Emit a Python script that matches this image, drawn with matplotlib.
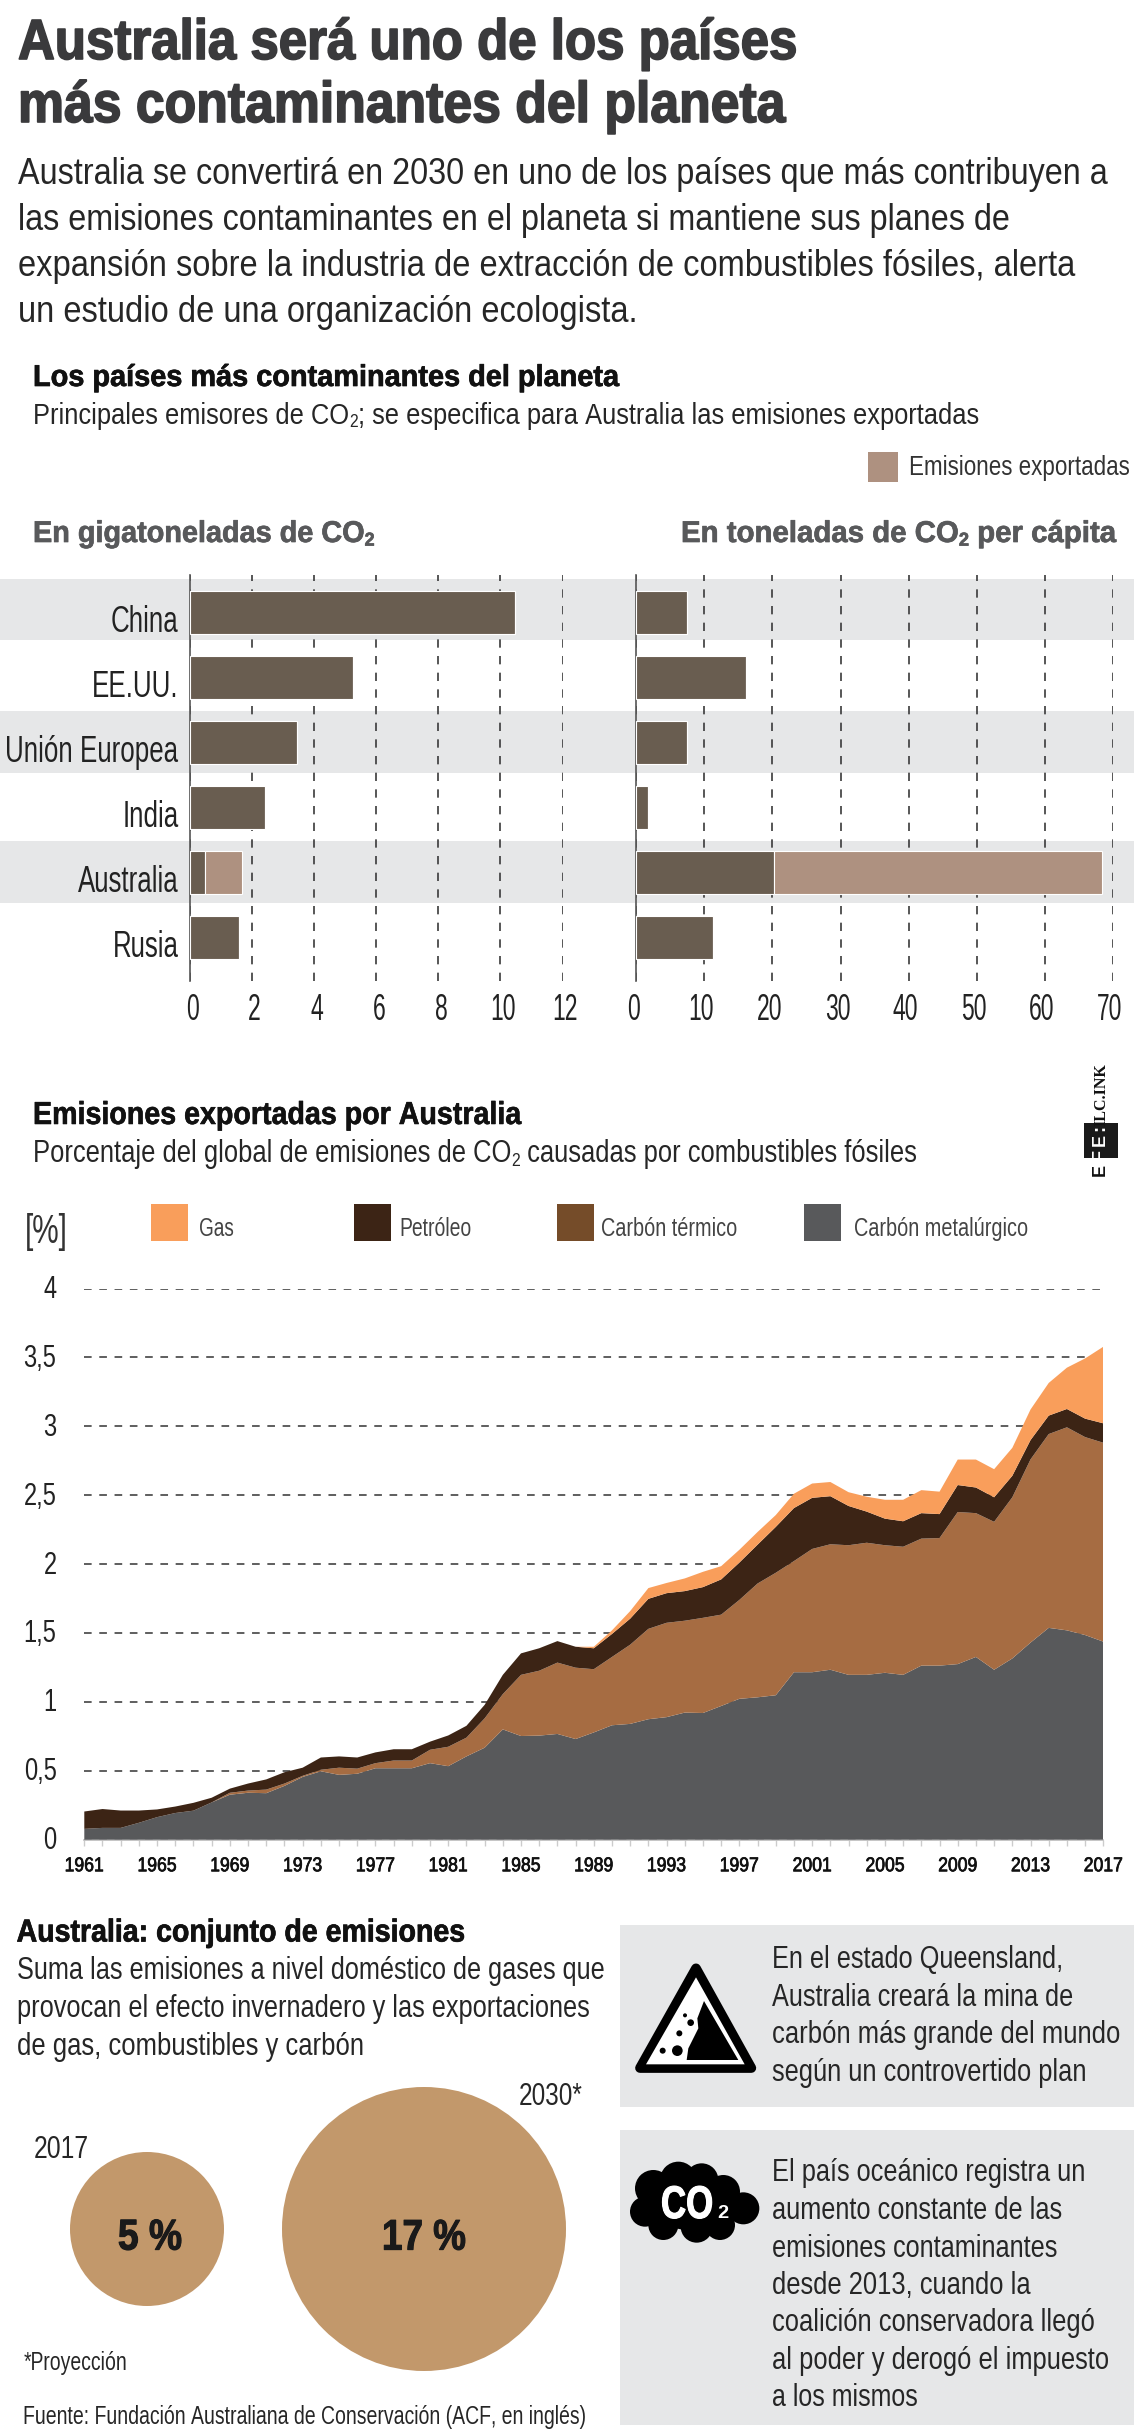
import io, os, tempfile
import numpy as np
import matplotlib
matplotlib.use("Agg")
import matplotlib.pyplot as plt
from matplotlib.patches import Rectangle, Circle, Polygon
from matplotlib.transforms import ScaledTranslation
from matplotlib import font_manager as fm
from matplotlib.font_manager import FontProperties
import matplotlib.patheffects as pe
from fontTools.ttLib import TTFont
from fontTools import subset

W, H, DPI = 1134, 2431, 100

# ---------- data ----------
paises = ['China', 'EE.UU.', 'Unión Europea', 'India', 'Australia', 'Rusia']
giga_domesticas = [10.47, 5.26, 3.46, 2.44, 0.49, 1.60]
giga_exportadas = [0, 0, 0, 0, 1.21, 0]
capita_domesticas = [7.4, 16.1, 7.4, 1.7, 20.2, 11.3]
capita_exportadas = [0, 0, 0, 0, 48.2, 0]
giga_ticks = [0, 2, 4, 6, 8, 10, 12]
capita_ticks = [0, 10, 20, 30, 40, 50, 60, 70]

anios = list(range(1961, 2018))
techo_metalurgico = [.078,.085,.085,.122,.163,.193,.21,.27,.326,.34,.337,.39,.455,.496,.47,.478,.518,.518,.518,.555,
    .533,.604,.667,.80,.752,.755,.767,.73,.778,.83,.84,.874,.889,.922,.919,.97,1.022,1.033,1.048,1.215,
    1.215,1.233,1.196,1.196,1.211,1.196,1.263,1.263,1.274,1.326,1.233,1.315,1.43,1.537,1.519,1.485,1.437]
techo_termico = [.078,.085,.085,.122,.163,.193,.21,.27,.34,.356,.363,.407,.463,.507,.522,.515,.555,.574,.574,.652,
    .674,.74,.88,1.056,1.196,1.226,1.285,1.248,1.237,1.326,1.415,1.53,1.574,1.589,1.61,1.633,1.74,1.859,1.937,2.022,
    2.11,2.144,2.137,2.155,2.137,2.126,2.185,2.189,2.378,2.37,2.307,2.485,2.76,2.944,2.993,2.922,2.881]
techo_petroleo = [.204,.222,.211,.211,.219,.24,.267,.304,.37,.407,.437,.489,.522,.596,.604,.596,.633,.656,.656,.711,
    .756,.826,.978,1.196,1.352,1.389,1.441,1.40,1.389,1.493,1.604,1.748,1.789,1.804,1.833,1.889,2.011,2.141,2.27,2.407,
    2.481,2.493,2.422,2.381,2.33,2.311,2.37,2.363,2.574,2.556,2.485,2.641,2.9,3.078,3.126,3.056,3.022]
techo_gas = [.204,.222,.211,.211,.219,.24,.267,.304,.37,.407,.437,.489,.522,.596,.604,.596,.633,.656,.656,.711,
    .756,.826,.978,1.196,1.352,1.389,1.441,1.40,1.40,1.519,1.659,1.826,1.863,1.896,1.944,1.985,2.104,2.233,2.356,2.511,
    2.585,2.596,2.522,2.489,2.467,2.467,2.537,2.526,2.759,2.759,2.689,2.844,3.122,3.315,3.426,3.493,3.578]
pct_ticks = [0, .5, 1, 1.5, 2, 2.5, 3, 3.5, 4]
pct_labels = ['0', '0,5', '1', '1,5', '2', '2,5', '3', '3,5', '4']
radio_2017 = 77
radio_2030 = 142

# ---------- colours ----------
GREY = '#e6e7e8'; BAR = '#695d50'; EXP = '#ae9180'; GAS = '#f99e5b'; OIL = '#3c2415'
THERM = '#a66c42'; THERM_LG = '#754c29'; MET = '#58595b'; TAN = '#c2986b'; INK = '#1c1c1c'

# ---------- condensed versions of Liberation Sans (the reference type is a narrow grotesque) ----------
TMP = tempfile.mkdtemp()
def _base_bytes(weight):
    f = TTFont(fm.findfont(FontProperties(family='Liberation Sans', weight=weight)))
    o = subset.Options(); o.layout_features = []; o.hinting = False; o.notdef_outline = True
    s = subset.Subsetter(o); s.populate(unicodes=list(range(0x20, 0x180))); s.subset(f)
    for t in ('kern', 'GPOS', 'GSUB', 'GDEF'):
        if t in f:
            del f[t]
    b = io.BytesIO(); f.save(b)
    return b.getvalue()
BASE = {False: _base_bytes('normal'), True: _base_bytes('bold')}
_cache = {}
def font_path(bold, factor):
    factor = round(factor / 0.02) * 0.02
    key = (bold, round(factor, 2))
    if key in _cache:
        return _cache[key]
    f = TTFont(io.BytesIO(BASE[bold]))
    glyf, hmtx = f['glyf'], f['hmtx']
    for name in f.getGlyphOrder():
        g = glyf[name]
        if g.isComposite():
            for c in g.components:
                c.x = int(round(c.x * factor))
        elif g.numberOfContours > 0:
            g.coordinates.scale((factor, 1)); g.coordinates.toInt()
        adv, lsb = hmtx[name]
        hmtx[name] = (int(round(adv * factor)), int(round(lsb * factor)))
    p = os.path.join(TMP, 'n%d_%03d.ttf' % (bold, round(factor * 100)))
    f.save(p)
    _cache[key] = p
    return p
def fp(px, factor=1.0, bold=False):
    return FontProperties(fname=font_path(bold, factor), size=px * 0.72)

fig = plt.figure(figsize=(W / DPI, H / DPI), dpi=DPI, facecolor='white')
bg = fig.add_axes([0, 0, 1, 1]); bg.set_xlim(0, W); bg.set_ylim(H, 0); bg.axis('off')
renderer = fig.canvas.get_renderer()

def label(x, base, parts, size, width=None, bold=False, color=INK, ha='left', stroke=0, z=10, factor=None):
    """Text placed by baseline in pixels; condensed so that it spans a target width."""
    if isinstance(parts, str):
        parts = [(parts, False)]
    def build(sz, fac):
        out, cx = [], 0
        for s, sub in parts:
            t = bg.text(0, 0, s, fontproperties=fp(sz * (0.62 if sub else 1), fac, bold), color=color,
                        va='baseline', ha='left', zorder=z)
            w = t.get_window_extent(renderer).width
            out.append((t, cx, sub, sz)); cx += w
        return out, cx
    fac = factor or 1.0
    items, total = build(size, fac)
    if width:
        for it in items:
            it[0].remove()
        fac = min(1.2, max(0.4, width / total))
        items, total = build(size, fac)
        for it in items:
            it[0].remove()
        size = size * width / total
        items, total = build(size, fac)
    x0 = x - total if ha == 'right' else x - total / 2 if ha == 'center' else x
    for t, cx, sub, sz in items:
        t.set_position((x0 + cx, base + (0.12 * sz if sub else 0)))
        if stroke:
            t.set_path_effects([pe.withStroke(linewidth=stroke, foreground=color)])

def axes_px(x0, y0, x1, y1):
    a = fig.add_axes([x0 / W, 1 - y1 / H, (x1 - x0) / W, (y1 - y0) / H])
    a.patch.set_visible(False)
    return a

def shift(lbls, dx, dy):
    off = ScaledTranslation(dx / DPI, -dy / DPI, fig.dpi_scale_trans)
    for l in lbls:
        l.set_transform(l.get_transform() + off)

# ---------- header ----------
label(18, 59, 'Australia será uno de los países', 57, width=779, bold=True, color='#3a3a3c', stroke=1.2)
label(18, 122, 'más contaminantes del planeta', 57, width=767, bold=True, color='#3a3a3c', stroke=1.2)
for b, s, w in [(184, 'Australia se convertirá en 2030 en uno de los países que más contribuyen a', 1090),
                (230, 'las emisiones contaminantes en el planeta si mantiene sus planes de', 990),
                (276, 'expansión sobre la industria de extracción de combustibles fósiles, alerta', 1055),
                (322, 'un estudio de una organización ecologista.', 618)]:
    label(18, b, s, 37, width=w, color='#262626')
label(33, 386, 'Los países más contaminantes del planeta', 30, width=587, bold=True, color='#111111', stroke=0.5)
label(33, 424, [('Principales emisores de CO', False), ('2', True), ('; se especifica para Australia las emisiones exportadas', False)],
      29, width=943, color='#262626')
bg.add_patch(Rectangle((868, 452), 30, 30, fc=EXP, ec='none'))
label(909, 475, 'Emisiones exportadas', 28, width=221, color='#333333')
label(33, 542, [('En gigatoneladas de CO', False), ('2', True)], 30, width=342, bold=True, color=MET, stroke=0.5)
label(681, 542, [('En toneladas de CO', False), ('2', True), (' per cápita', False)], 30, width=435, bold=True, color=MET, stroke=0.5)

# ---------- horizontal bars ----------
for y0, y1 in [(578.6, 640), (711.4, 773.2), (841, 902.9)]:
    bg.add_patch(Rectangle((0, y0), W, y1 - y0, fc=GREY, ec='none', zorder=0))

def bars(x0, x1, xmax, dom, exp, ticks, dx, show_y):
    a = axes_px(x0, 575, x1, 981.4)
    pos = np.arange(len(paises))
    a.barh(pos, dom, height=43 / 65, color=BAR, ec='white', lw=0.8, zorder=3)
    a.barh(pos, exp, left=dom, height=43 / 65, color=EXP, ec='white', lw=0.8, zorder=3)
    a.set_xlim(0, xmax); a.set_ylim((981.4 - 612.5) / 65, (575 - 612.5) / 65)
    a.set_xticks(ticks); a.set_xticklabels([str(t) for t in ticks], fontproperties=fp(37, 0.62), color='#222222')
    a.tick_params(axis='x', length=0, pad=8)
    a.grid(axis='x', color='#3a3a3a', lw=1.2, ls=(0, (5, 5)), zorder=1)
    a.set_axisbelow(True)
    for s in ['top', 'right', 'bottom']:
        a.spines[s].set_visible(False)
    a.spines['left'].set_color('#555555'); a.spines['left'].set_linewidth(1.2)
    a.set_yticks(pos)
    if show_y:
        a.set_yticklabels(paises, fontproperties=fp(36, 0.72), color='#222222')
        a.tick_params(axis='y', length=0, pad=8)
        shift(a.get_yticklabels(), 0, 6)
    else:
        a.tick_params(axis='y', length=0, labelleft=False)
    shift(a.get_xticklabels(), dx, 0)
    return a

bars(189.5, 562.5, 12, giga_domesticas, giga_exportadas, giga_ticks, 3, True)
bars(636.3, 1112.8, 70, capita_domesticas, capita_exportadas, capita_ticks, -3, False)

# ---------- area chart ----------
label(33, 1124, 'Emisiones exportadas por Australia', 32, width=489, bold=True, color='#111111', stroke=0.4)
label(33, 1162, [('Porcentaje del global de emisiones de CO', False), ('2', True), (' causadas por combustibles fósiles', False)],
      31, width=884, color='#262626')
for x0, c, tx, s, w in [(151, GAS, 199, 'Gas', 35), (354, OIL, 399, 'Petróleo', 72),
                        (557, THERM_LG, 601, 'Carbón térmico', 136), (803.5, MET, 854, 'Carbón metalúrgico', 174)]:
    bg.add_patch(Rectangle((x0, 1204), 37, 37, fc=c, ec='none'))
    label(tx, 1236, s, 26, width=w, color='#444444')
label(25, 1243, '[%]', 40, width=43, color='#333333')

a = axes_px(84.3, 1288.6, 1103.3, 1839.6)
capas = [np.array(techo_metalurgico),
         np.array(techo_termico) - np.array(techo_metalurgico),
         np.array(techo_petroleo) - np.array(techo_termico),
         np.array(techo_gas) - np.array(techo_petroleo)]
a.stackplot(anios, *capas, colors=[MET, THERM, OIL, GAS], linewidth=0, zorder=3)
a.set_xlim(1961, 2017); a.set_ylim(0, 4)
a.set_yticks(pct_ticks); a.set_yticklabels(pct_labels, fontproperties=fp(32, 0.74), color='#222222')
a.set_xticks(anios[::4]); a.set_xticks(anios, minor=True)
a.set_xticklabels([str(v) for v in anios[::4]], fontproperties=fp(20, 0.88), color='#111111')
for l in a.get_xticklabels():
    l.set_path_effects([pe.withStroke(linewidth=0.5, foreground='#111111')])
a.tick_params(axis='y', length=0, pad=20)
a.tick_params(axis='x', which='both', length=4, width=1, color='#cccccc', pad=8)
a.grid(axis='y', color='#333333', lw=1.1, ls=(0, (5, 5)), zorder=1)
a.set_axisbelow(True)
for s in ['top', 'right', 'left']:
    a.spines[s].set_visible(False)
a.spines['bottom'].set_color('#bbbbbb'); a.spines['bottom'].set_linewidth(1.2)
shift(a.get_yticklabels(), 0, -2)

# logo
bg.add_patch(Rectangle((1083.5, 1123), 34.5, 35, fc='#1a1a1a', ec='none'))
kw = dict(rotation=90, ha='center', va='center', zorder=11)
bg.text(1101, 1095, 'ILC.INK', fontproperties=FontProperties(family='Liberation Serif', weight='bold', size=11.5), color='#111111', **kw)
bg.text(1100, 1140, 'E', fontproperties=fp(18, 1.0, True), color='white', **kw)
bg.text(1100, 1128, ':', fontproperties=fp(18, 1.0, True), color='white', **kw)
bg.text(1100, 1155, 'F', fontproperties=fp(18, 1.0, True), color='white', **kw)
bg.text(1100, 1170, 'E', fontproperties=fp(18, 1.0, True), color='#111111', **kw)

# ---------- bottom left ----------
label(16.6, 1941.5, 'Australia: conjunto de emisiones', 32, width=449, bold=True, color='#111111', stroke=0.5)
for b, s, w in [(1979.4, 'Suma las emisiones a nivel doméstico de gases que', 587),
                (2017, 'provocan el efecto invernadero y las exportaciones', 574),
                (2054.6, 'de gas, combustibles y carbón', 347)]:
    label(16.6, b, s, 32, width=w, color='#262626')
bg.add_patch(Circle((147, 2229), radio_2017, fc=TAN, ec='none'))
bg.add_patch(Circle((424, 2229), radio_2030, fc=TAN, ec='none'))
label(34, 2157.6, '2017', 32, width=55, color='#262626')
label(519, 2105, '2030*', 32, width=64, color='#262626')
label(150, 2249.6, '5 %', 43, width=64, bold=True, ha='center', color='#1a1a1a', stroke=0.8)
label(424, 2249.6, '17 %', 43, width=84, bold=True, ha='center', color='#1a1a1a', stroke=0.8)
label(24, 2370, '*Proyección', 25, width=104, color='#262626')
label(23, 2423.6, 'Fuente: Fundación Australiana de Conservación (ACF, en inglés)', 26, width=563, color='#262626')

# ---------- bottom right panels ----------
bg.add_patch(Rectangle((620, 1925), 514, 181.6, fc=GREY, ec='none', zorder=0))
bg.add_patch(Rectangle((620, 2129.5), 514, 295, fc=GREY, ec='none', zorder=0))
for b, s, w in [(1968, 'En el estado Queensland,', 290), (2006, 'Australia creará la mina de', 300),
                (2043.4, 'carbón más grande del mundo', 349), (2081.3, 'según un controvertido plan', 315)]:
    label(772, b, s, 32, width=w, color='#262626')
for b, s, w in [(2181.5, 'El país oceánico registra un', 312), (2219, 'aumento constante de las', 290),
                (2256.7, 'emisiones contaminantes', 285), (2294, 'desde 2013, cuando la', 259),
                (2331.5, 'coalición conservadora llegó', 323), (2369, 'al poder y derogó el impuesto', 338),
                (2406, 'a los mismos', 146)]:
    label(772, b, s, 32, width=w, color='#262626')

# warning icon
def zp(pts, ox, oy):
    return [(ox + p / 3, oy + q / 3) for p, q in pts]
bg.add_patch(Polygon(zp([(228, 55), (60, 354), (394, 354)], 620, 1950), closed=True, fc='black', ec='black', lw=7, joinstyle='round'))
bg.add_patch(Polygon(zp([(228, 82), (78, 343), (374, 343)], 620, 1950), closed=True, fc='white', ec='none'))
bg.add_patch(Polygon(zp([(252, 153), (232, 205), (235, 235), (205, 295), (200, 330), (355, 330)], 620, 1950), closed=True, fc='black', ec='none'))
for p, q, r in [(172, 302, 16), (128, 302, 9), (178, 250, 9), (212, 218, 10), (195, 196, 6)]:
    bg.add_patch(Circle((620 + p / 3, 1950 + q / 3), r / 3, fc='black', ec='none'))

# CO2 cloud
for p, q, r in [(200, 150, 90), (175, 90, 55), (100, 115, 55), (75, 185, 45), (130, 225, 45),
                (230, 230, 48), (300, 225, 45), (370, 175, 48), (310, 125, 50), (245, 90, 50), (305, 175, 45)]:
    bg.add_patch(Circle((620 + p / 3, 2150 + q / 3), r / 3, fc='black', ec='none'))
label(661, 2218, 'CO', 46, width=52, bold=True, color='white', z=12, stroke=0.8)
label(717.5, 2218, '2', 18, width=11, bold=True, color='white', z=12)

fig.savefig('out.png', dpi=DPI, facecolor='white')
